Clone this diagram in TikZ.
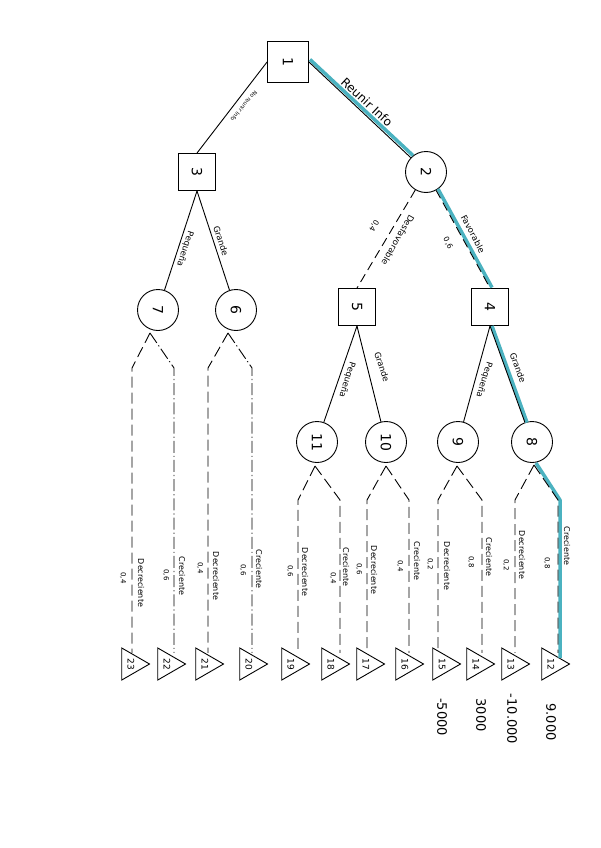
\documentclass[tikz,border=0pt]{standalone}
\usepackage{fontspec}
\usepackage{graphicx}
\setmainfont{DejaVu Sans}
\usetikzlibrary{shapes.geometric}
\definecolor{tealhl}{RGB}{75,178,192}
\newcommand{\rt}[1]{\rotatebox[origin=c]{-90}{#1}}
\begin{document}
\begin{tikzpicture}[x=1pt,y=-1pt,
  dnode/.style={draw, line width=0.9pt, minimum size=37pt, inner sep=0pt, font=\fontsize{14}{14}\selectfont},
  cnode/.style={draw, circle, line width=0.9pt, minimum size=41pt, inner sep=0pt, font=\fontsize{14}{14}\selectfont},
  leaf/.style={draw, regular polygon, regular polygon sides=3, minimum size=37pt, inner sep=0pt, line width=0.9pt, rotate=-90, font=\fontsize{9}{9}\selectfont},
  sedge/.style={line width=0.9pt},
  dedge/.style={line width=0.9pt, dash pattern=on 9pt off 5pt},
  ledge/.style={line width=0.9pt, dash pattern=on 11pt off 5pt},
  ddedge/.style={line width=0.9pt, dash pattern=on 12pt off 3pt on 1.2pt off 3pt},
  hl/.style={tealhl, line width=3.5pt},
  blabel/.style={inner sep=0pt, font=\fontsize{8.5}{8.5}\selectfont},
  olabel/.style={inner sep=0pt, font=\fontsize{8}{8}\selectfont, rotate=-90},
  plabel/.style={inner sep=0pt, font=\fontsize{7}{7}\selectfont, rotate=-90},
  vlabel/.style={inner sep=0pt, font=\fontsize{13}{13}\selectfont, rotate=-90},
]
\useasboundingbox (0,0) rectangle (600,848);
\fill[white] (0,0) rectangle (600,848);

% nodes
\node[dnode, minimum size=41pt] (n1) at (288,62) {\rt{1}};
\node[cnode] (n2) at (426,172) {\rt{2}};
\node[dnode] (n3) at (197,172) {\rt{3}};
\node[dnode] (n5) at (357,307) {\rt{5}};
\node[dnode] (n4) at (490,307) {\rt{4}};
\node[cnode] (n7) at (158,310) {\rt{7}};
\node[cnode] (n6) at (236,310) {\rt{6}};
\node[cnode] (n11) at (317,442) {\rt{11}};
\node[cnode] (n10) at (386,442) {\rt{10}};
\node[cnode] (n9) at (458,442) {\rt{9}};
\node[cnode] (n8) at (532,442) {\rt{8}};

% leaves
\node[leaf] (l23) at (131,664) {23};
\node[leaf] (l22) at (167,664) {22};
\node[leaf] (l21) at (205,664) {21};
\node[leaf] (l20) at (249,664) {20};
\node[leaf] (l19) at (291,664) {19};
\node[leaf] (l18) at (331,664) {18};
\node[leaf] (l17) at (366,664) {17};
\node[leaf] (l16) at (405,664) {16};
\node[leaf] (l15) at (442,664) {15};
\node[leaf] (l14) at (476,664) {14};
\node[leaf] (l13) at (511,664) {13};
\node[leaf] (l12) at (551,664) {12};

% apex and bend coordinates
\coordinate (a7) at (150,333);
\coordinate (b23) at (132,368);
\coordinate (b22) at (174,368);
\coordinate (a6) at (228,333);
\coordinate (b21) at (208,368);
\coordinate (b20) at (252,368);
\coordinate (a11) at (315,466);
\coordinate (b19) at (298,500);
\coordinate (b18) at (340,500);
\coordinate (a10) at (386,466);
\coordinate (b17) at (367,500);
\coordinate (b16) at (409,500);
\coordinate (a9) at (457,466);
\coordinate (b15) at (438,500);
\coordinate (b14) at (482,500);
\coordinate (a8) at (534,465);
\coordinate (b13) at (515,500);
\coordinate (b12) at (558,500);

% highlighted path
\coordinate (t1) at (310,59.5);
\coordinate (t2) at (413,155.5);
\coordinate (t3) at (438,189);
\coordinate (t4) at (492,287.5);
\coordinate (t5) at (492,326);
\coordinate (t6) at (527,422.5);
\coordinate (t7) at (536,463);
\coordinate (t8) at (560,500);
\coordinate (t9) at (560,658);
\draw[hl] (t1) -- (t2);
\draw[hl] (t3) -- (t4);
\draw[hl] (t5) -- (t6);
\draw[hl, line join=round] (t7) -- (t8) -- (t9);

% decision edges
\draw[sedge] (n1.west) -- (n3.north);
\draw[sedge] (n1.east) -- (n2);
\draw[dedge] (n2) -- (n5.north);
\draw[dedge] (n2) -- (n4.north);
\draw[sedge] (n3.south) -- (n7);
\draw[sedge] (n3.south) -- (n6);
\draw[sedge] (n5.south) -- (n11);
\draw[sedge] (n5.south) -- (n10);
\draw[sedge] (n4.south) -- (n9);
\draw[sedge] (n4.south) -- (n8);

% chance edges
\draw[ledge] (a7) -- (b23) -- (b23 |- l23.west);
\draw[ddedge] (a7) -- (b22) -- (b22 |- l22.west);
\draw[ledge] (a6) -- (b21) -- (b21 |- l21.west);
\draw[ddedge] (a6) -- (b20) -- (b20 |- l20.west);
\draw[ledge] (a11) -- (b19) -- (b19 |- l19.west);
\draw[ledge] (a11) -- (b18) -- (b18 |- l18.west);
\draw[ledge] (a10) -- (b17) -- (b17 |- l17.west);
\draw[ledge] (a10) -- (b16) -- (b16 |- l16.west);
\draw[ledge] (a9) -- (b15) -- (b15 |- l15.west);
\draw[ledge] (a9) -- (b14) -- (b14 |- l14.west);
\draw[ledge] (a8) -- (b13) -- (b13 |- l13.west);
\draw[ledge] (a8) -- (b12) -- (b12 |- l12.west);

% branch labels
\node[inner sep=0pt, font=\fontsize{12}{12}\selectfont, rotate=-43] (lab1) at (367,102) {Reunir Info};
\node[inner sep=0pt, font=\fontsize{5.5}{5.5}\selectfont, rotate=-130] (lab2) at (244,106) {No reunir Info};
\node[blabel, rotate=-108] (lab3) at (185,249) {Pequeña};
\node[blabel, rotate=-72] (lab4) at (221,241) {Grande};
\node[blabel, rotate=-120] (lab5) at (398,240) {Desfavorable};
\node[inner sep=0pt, font=\fontsize{7.5}{7.5}\selectfont, rotate=-120] (lab6) at (374,226) {0,4};
\node[blabel, rotate=-62] (lab7) at (473,234) {Favorable};
\node[inner sep=0pt, font=\fontsize{7.5}{7.5}\selectfont, rotate=-62] (lab8) at (448,243) {0,6};
\node[blabel, rotate=-107] (lab9) at (347,380) {Pequeña};
\node[blabel, rotate=-72] (lab10) at (382,367) {Grande};
\node[blabel, rotate=-107] (lab11) at (484,380) {Pequeña};
\node[blabel, rotate=-70] (lab12) at (518,368) {Grande};

% outcome labels
\node[olabel] (o23) at (141,583) {Decreciente};
\node[plabel] (p23) at (123,578) {0,4};
\node[olabel] (o22) at (182,576) {Creciente};
\node[plabel] (p22) at (166,575) {0,6};
\node[olabel] (o21) at (216,576) {Decreciente};
\node[plabel] (p21) at (200,568) {0,4};
\node[olabel] (o20) at (259,569) {Creciente};
\node[plabel] (p20) at (243,570) {0,6};
\node[olabel] (o19) at (305,572) {Decreciente};
\node[plabel] (p19) at (290,571) {0,6};
\node[olabel] (o18) at (346,567) {Creciente};
\node[plabel] (p18) at (333,578) {0,4};
\node[olabel] (o17) at (374,570) {Decreciente};
\node[plabel] (p17) at (359,569) {0,6};
\node[olabel] (o16) at (417,561) {Creciente};
\node[plabel] (p16) at (400,566) {0,4};
\node[olabel] (o15) at (447,566) {Decreciente};
\node[plabel] (p15) at (430,564) {0,2};
\node[olabel] (o14) at (489,557) {Creciente};
\node[plabel] (p14) at (471,562) {0,8};
\node[olabel] (o13) at (522,555) {Decreciente};
\node[plabel] (p13) at (506,565) {0,2};
\node[olabel] (o12) at (567,546) {Creciente};
\node[plabel] (p12) at (547,563) {0,8};

% values
\node[vlabel] (v15) at (442,717) {-5000};
\node[vlabel] (v14) at (481,715) {3000};
\node[vlabel] (v13) at (512,719) {-10.000};
\node[vlabel] (v12) at (551,722) {9.000};
\end{tikzpicture}
\end{document}
